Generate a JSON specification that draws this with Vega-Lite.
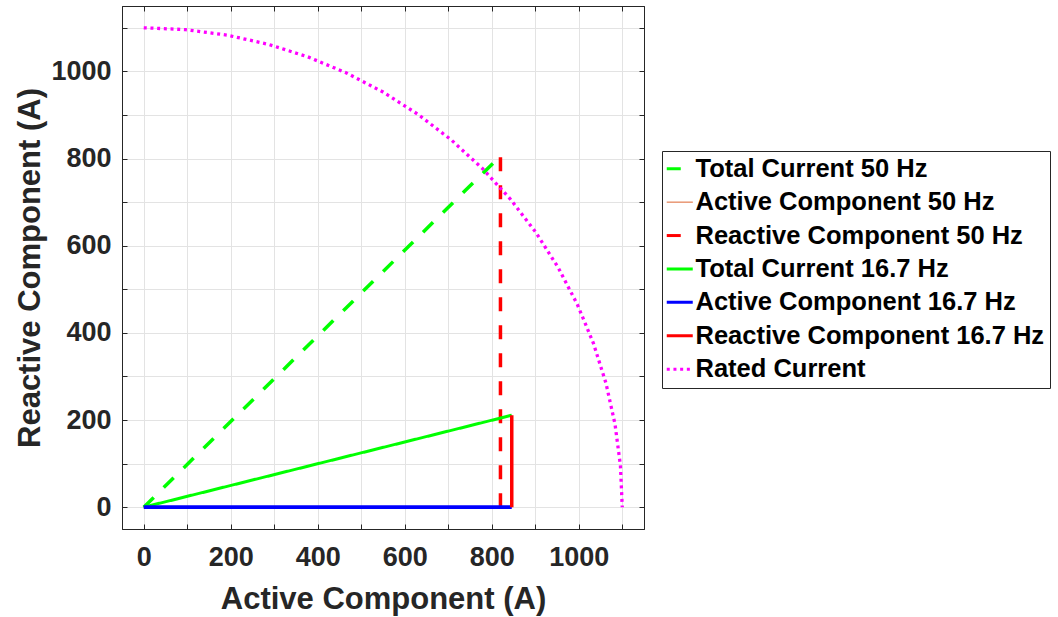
{
  "$schema": "https://vega.github.io/schema/vega-lite/v6.json",
  "width": 522,
  "height": 523,
  "autosize": {"type": "none"},
  "padding": {"left": 122, "top": 6, "right": 414, "bottom": 88},
  "background": "white",
  "datasets": {
    "vectors": [
      {"series": "Total Current 50 Hz", "group": "50", "k": 0, "x": 0, "y": 0},
      {"series": "Total Current 50 Hz", "group": "50", "k": 1, "x": 820, "y": 806},
      {"series": "Active Component 50 Hz", "group": "50", "k": 0, "x": 0, "y": 0},
      {"series": "Active Component 50 Hz", "group": "50", "k": 1, "x": 820, "y": 0},
      {"series": "Reactive Component 50 Hz", "group": "50", "k": 0, "x": 820, "y": 0},
      {"series": "Reactive Component 50 Hz", "group": "50", "k": 1, "x": 820, "y": 806},
      {"series": "Total Current 16.7 Hz", "group": "16.7", "k": 0, "x": 0, "y": 0},
      {"series": "Total Current 16.7 Hz", "group": "16.7", "k": 1, "x": 846, "y": 211},
      {"series": "Active Component 16.7 Hz", "group": "16.7", "k": 0, "x": 0, "y": 0},
      {"series": "Active Component 16.7 Hz", "group": "16.7", "k": 1, "x": 846, "y": 0},
      {"series": "Reactive Component 16.7 Hz", "group": "16.7", "k": 0, "x": 846, "y": 0},
      {"series": "Reactive Component 16.7 Hz", "group": "16.7", "k": 1, "x": 846, "y": 211}
    ],
    "rated": [
      {"series": "Rated Current", "k": 0, "x": 0, "y": 1100},
      {"series": "Rated Current", "k": 1, "x": 95.9, "y": 1095.8},
      {"series": "Rated Current", "k": 2, "x": 191.0, "y": 1083.3},
      {"series": "Rated Current", "k": 3, "x": 284.7, "y": 1062.5},
      {"series": "Rated Current", "k": 4, "x": 376.2, "y": 1033.7},
      {"series": "Rated Current", "k": 5, "x": 464.9, "y": 996.9},
      {"series": "Rated Current", "k": 6, "x": 550.0, "y": 952.6},
      {"series": "Rated Current", "k": 7, "x": 630.9, "y": 901.1},
      {"series": "Rated Current", "k": 8, "x": 707.1, "y": 842.6},
      {"series": "Rated Current", "k": 9, "x": 777.8, "y": 777.8},
      {"series": "Rated Current", "k": 10, "x": 842.6, "y": 707.1},
      {"series": "Rated Current", "k": 11, "x": 901.1, "y": 630.9},
      {"series": "Rated Current", "k": 12, "x": 952.6, "y": 550.0},
      {"series": "Rated Current", "k": 13, "x": 996.9, "y": 464.9},
      {"series": "Rated Current", "k": 14, "x": 1033.7, "y": 376.2},
      {"series": "Rated Current", "k": 15, "x": 1062.5, "y": 284.7},
      {"series": "Rated Current", "k": 16, "x": 1083.3, "y": 191.0},
      {"series": "Rated Current", "k": 17, "x": 1095.8, "y": 95.9},
      {"series": "Rated Current", "k": 18, "x": 1100, "y": 0}
    ]
  },
  "encoding": {
    "x": {
      "field": "x", "type": "quantitative",
      "scale": {"domain": [-50, 1150], "nice": false, "zero": false}
    },
    "y": {
      "field": "y", "type": "quantitative",
      "scale": {"domain": [-50, 1150], "nice": false, "zero": false}
    },
    "order": {"field": "k", "type": "quantitative"},
    "color": {
      "field": "series", "type": "nominal", "title": null,
      "scale": {
        "domain": ["Total Current 50 Hz", "Active Component 50 Hz", "Reactive Component 50 Hz", "Total Current 16.7 Hz", "Active Component 16.7 Hz", "Reactive Component 16.7 Hz", "Rated Current"],
        "range": ["#00ff00", "#d95319", "#ff0000", "#00ff00", "#0000ff", "#ff0000", "#ff00ff"]
      },
      "legend": {
        "orient": "none", "legendX": 540, "legendY": 145,
        "symbolType": "stroke", "symbolSize": 676, "symbolStrokeWidth": 3,
        "labelFont": "Liberation Sans", "labelFontWeight": "bold", "labelFontSize": 25.5,
        "labelColor": "#000000", "labelLimit": 500, "labelOffset": 3,
        "rowPadding": 6.4, "padding": 5,
        "strokeColor": "#262626", "fillColor": "white",
        "encode": {
          "symbols": {
            "update": {
              "strokeWidth": {"signal": "datum.value === 'Active Component 50 Hz' ? 1 : 3"}
            }
          }
        }
      }
    },
    "strokeDash": {
      "field": "series", "type": "nominal", "title": null,
      "scale": {
        "domain": ["Total Current 50 Hz", "Active Component 50 Hz", "Reactive Component 50 Hz", "Total Current 16.7 Hz", "Active Component 16.7 Hz", "Reactive Component 16.7 Hz", "Rated Current"],
        "range": [[14, 14], [1, 0], [14, 14], [1, 0], [1, 0], [1, 0], [3, 3.7]]
      }
    },
    "strokeWidth": {
      "condition": [
        {"test": "datum.series === 'Active Component 50 Hz'", "value": 1},
        {"test": "datum.series === 'Total Current 16.7 Hz'", "value": 3},
        {"test": "datum.series === 'Active Component 16.7 Hz'", "value": 3.7},
        {"test": "datum.series === 'Rated Current'", "value": 3.3}
      ],
      "value": 3.5
    }
  },
  "layer": [
    {
      "data": {"name": "vectors"},
      "transform": [{"filter": "datum.group === '50'"}],
      "mark": {"type": "line", "strokeCap": "butt"},
      "encoding": {
        "x": {
          "field": "x", "type": "quantitative",
          "axis": {
            "orient": "bottom", "values": [0, 100, 200, 300, 400, 500, 600, 700, 800, 900, 1000, 1100],
            "format": "d", "labelExpr": "datum.value % 200 === 0 ? datum.label : ''",
            "labelPadding": 20, "titlePadding": 14,
            "title": "Active Component (A)"
          }
        },
        "y": {
          "field": "y", "type": "quantitative",
          "axis": {
            "orient": "left", "values": [0, 100, 200, 300, 400, 500, 600, 700, 800, 900, 1000, 1100],
            "format": "d", "labelExpr": "datum.value % 200 === 0 ? datum.label : ''",
            "labelPadding": 16, "titlePadding": 4,
            "title": "Reactive Component (A)"
          }
        }
      }
    },
    {
      "data": {"name": "vectors"},
      "transform": [{"filter": "datum.group === '16.7'"}],
      "mark": {"type": "line", "strokeCap": "butt"},
      "encoding": {
        "x": {"field": "x", "type": "quantitative", "axis": null},
        "y": {"field": "y", "type": "quantitative", "axis": null}
      }
    },
    {
      "data": {"name": "rated"},
      "mark": {"type": "line", "strokeCap": "butt"},
      "encoding": {
        "x": {
          "field": "x", "type": "quantitative",
          "axis": {
            "orient": "top", "values": [0, 100, 200, 300, 400, 500, 600, 700, 800, 900, 1000, 1100],
            "labels": false, "grid": false, "title": null
          }
        },
        "y": {
          "field": "y", "type": "quantitative",
          "axis": {
            "orient": "right", "values": [0, 100, 200, 300, 400, 500, 600, 700, 800, 900, 1000, 1100],
            "labels": false, "grid": false, "title": null
          }
        }
      }
    }
  ],
  "resolve": {"axis": {"x": "independent", "y": "independent"}},
  "config": {
    "font": "Liberation Sans",
    "view": {"stroke": "#262626", "strokeWidth": 1},
    "axis": {
      "domainColor": "#262626",
      "domainWidth": 1,
      "tickColor": "#262626",
      "tickSize": -5,
      "tickWidth": 1,
      "grid": true,
      "gridColor": "#e3e3e3",
      "gridWidth": 1,
      "labelFont": "Liberation Sans",
      "labelFontWeight": "bold",
      "labelFontSize": 27,
      "labelColor": "#262626",
      "titleFont": "Liberation Sans",
      "titleFontWeight": "bold",
      "titleFontSize": 31,
      "titleColor": "#262626"
    }
  }
}
